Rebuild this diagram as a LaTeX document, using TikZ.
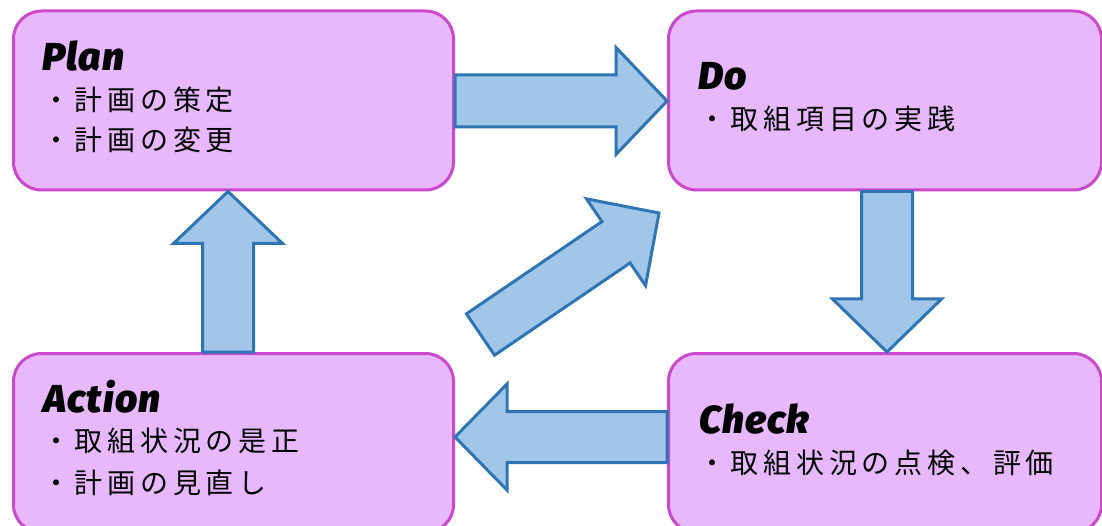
\documentclass[tikz,border=0pt]{standalone}
\usepackage{fontspec}
\usepackage{graphicx}
\usetikzlibrary{calc}
\newfontfamily\jpfont[LetterSpace=17]{Noto Sans CJK JP}
\newfontfamily\ttlfont[BoldItalicFont={Fira Sans Black Italic},LetterSpace=3]{Fira Sans}
\definecolor{boxfill}{HTML}{E8B8FC}
\definecolor{boxline}{HTML}{CC48CC}
\definecolor{arrfill}{HTML}{A2C6E8}
\definecolor{arrline}{HTML}{2E75B6}
\newcommand\jptext[1]{{\jpfont\fontsize{28}{32}\selectfont #1}}
% #1 from, #2 to, #3 half shaft width, #4 half head width, #5 head length
\newcommand\blockarrow[5]{%
  \coordinate (ba-c) at ($(#2)!#5!(#1)$);
  \draw[barrow] ($(#1)!#3!90:(#2)$) -- ($(ba-c)!#3!90:(#2)$) -- ($(ba-c)!#4!90:(#2)$)
    -- (#2) -- ($(ba-c)!#4!-90:(#2)$) -- ($(ba-c)!#3!-90:(#2)$) -- ($(#1)!#3!-90:(#2)$) -- cycle;}
\begin{document}
\begin{tikzpicture}[x=1pt,y=-1pt,
  phase/.style={draw=boxline, fill=boxfill, line width=3pt, rounded corners=28pt,
    inner sep=0pt, anchor=north west, minimum width=440pt, minimum height=179pt},
  title/.style={anchor=base west, inner sep=0pt, font=\ttlfont\bfseries\itshape\fontsize{39}{40}\selectfont},
  item/.style={anchor=base west, inner sep=0pt},
  barrow/.style={draw=arrline, fill=arrfill, line width=3pt, line join=miter}]
\useasboundingbox (0,0) rectangle (1102,526);
\clip (0,0) rectangle (1102,526);
% boxes
\node[phase] (plan) at (12,9.5) {};
\node[phase, minimum width=433pt] (do) at (667,9.5) {};
\node[phase, minimum width=433pt] (check) at (667,352) {};
\node[phase] (act) at (12,352) {};
% arrow end points
\coordinate (pd-s) at (plan.east |- 0,101);
\coordinate (pd-e) at (do.west |- 0,101);
\coordinate (dc-s) at (887,0 |- do.south);
\coordinate (dc-e) at (887,0 |- check.north);
\coordinate (ca-s) at (check.west |- 0,437);
\coordinate (ca-e) at (act.east |- 0,437);
\coordinate (ap-s) at (228,0 |- act.north);
\coordinate (ap-e) at (228,0 |- plan.south);
\coordinate (ad-s) at (480.5,334.5);
\coordinate (ad-e) at (659,213);
% arrows
\blockarrow{pd-s}{pd-e}{26pt}{53.5pt}{51pt}
\blockarrow{dc-s}{dc-e}{25.5pt}{54.5pt}{53pt}
\blockarrow{ca-s}{ca-e}{25.5pt}{53pt}{52pt}
\blockarrow{ap-s}{ap-e}{25.5pt}{54.5pt}{52pt}
\blockarrow{ad-s}{ad-e}{25pt}{52.5pt}{52pt}
% texts
\node[title] (plan-t) at (42,71) {Plan};
\node[item] (plan-1) at (42,111) {\jptext{・計画の策定}};
\node[item] (plan-2) at (42,151) {\jptext{・計画の変更}};
\node[title] (do-t) at (698,90) {Do};
\node[item] (do-1) at (698,130) {\jptext{・取組項目の実践}};
\node[title] (check-t) at (699,433) {Check};
\node[item] (check-1) at (698,473) {\jptext{・取組状況の点検、評価}};
\node[title] (act-t) at (43,412) {Action};
\node[item] (act-1) at (42,451) {\jptext{・取組状況の是正}};
\node[item] (act-2) at (42,493) {\jptext{・計画の見直し}};
\end{tikzpicture}
\end{document}
